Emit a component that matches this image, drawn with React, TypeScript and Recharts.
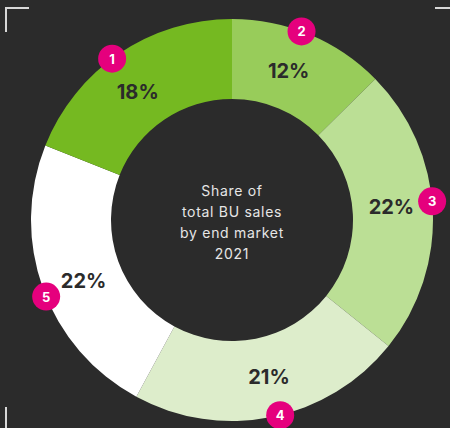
import React from 'react';
import { PieChart, Pie, Cell } from 'recharts';

// end market shares 2021, clockwise from 12 o'clock
const markers = ['2', '3', '4', '5', '1'];
const shares = [12, 22, 21, 22, 18];
const centerLines = ['Share of', 'total BU sales', 'by end market', '2021'];

const COLORS = ['#98cc5a', '#bbdf95', '#ddedcb', '#ffffff', '#75b921'];
const BG = '#2b2b2b';
const PINK = '#e5007d';
const RADIAN = Math.PI / 180;

const data = shares.map((v, i) => ({ name: markers[i], value: v }));

const renderLabel = (props: any) => {
  const { cx, cy, midAngle, outerRadius, index, value } = props;
  const r = 160;
  const la = (midAngle + 2) * RADIAN;
  const x = cx + r * Math.cos(-la);
  const y = cy + r * Math.sin(-la) + 1;
  const ma = (midAngle + 2.5) * RADIAN;
  const mx = cx + outerRadius * Math.cos(-ma);
  const my = cy + outerRadius * Math.sin(-ma);
  return (
    <g>
      {index === 0 &&
        centerLines.map((line, i) => (
          <text
            key={line}
            x={cx}
            y={cy - 30 + i * 21}
            textAnchor="middle"
            dominantBaseline="central"
            fill="#e6e6e6"
            fontFamily="Inter, sans-serif"
            fontSize={14}
            letterSpacing={0.7}
          >
            {line}
          </text>
        ))}
      <text
        x={x}
        y={y}
        textAnchor="middle"
        dominantBaseline="central"
        fill={BG}
        fontFamily="Inter, sans-serif"
        fontWeight={700}
        fontSize={20}
      >
        {value}%
      </text>
      <circle cx={mx} cy={my} r={14} fill={PINK} />
      <text
        x={mx}
        y={my}
        textAnchor="middle"
        dominantBaseline="central"
        fill="#ffffff"
        fontFamily="Inter, sans-serif"
        fontWeight={700}
        fontSize={13}
      >
        {markers[index]}
      </text>
    </g>
  );
};

const App: React.FC = () => {
  return (
    <div
      style={{
        position: 'absolute',
        left: 0,
        top: 0,
        width: 450,
        height: 428,
        background: BG,
        overflow: 'hidden',
      }}
    >
      {/* corner marks */}
      <div style={{ position: 'absolute', left: 5, top: 7, width: 24, height: 2, background: '#d8d8d8' }} />
      <div style={{ position: 'absolute', left: 5, top: 7, width: 2, height: 25, background: '#d8d8d8' }} />
      <div style={{ position: 'absolute', left: 435, top: 7, width: 15, height: 2, background: '#d8d8d8' }} />
      <div style={{ position: 'absolute', left: 5, top: 407, width: 2, height: 21, background: '#d8d8d8' }} />
      <PieChart width={450} height={428} margin={{ top: 0, right: 0, bottom: 0, left: 0 }}>
        <Pie
          data={data}
          dataKey="value"
          nameKey="name"
          cx={232}
          cy={220}
          innerRadius={121}
          outerRadius={201}
          startAngle={90}
          endAngle={-270}
          stroke="none"
          label={renderLabel}
          labelLine={false}
          isAnimationActive={false}
        >
          {data.map((d, i) => (
            <Cell key={d.name} fill={COLORS[i]} />
          ))}
        </Pie>
      </PieChart>
    </div>
  );
};

export default App;
